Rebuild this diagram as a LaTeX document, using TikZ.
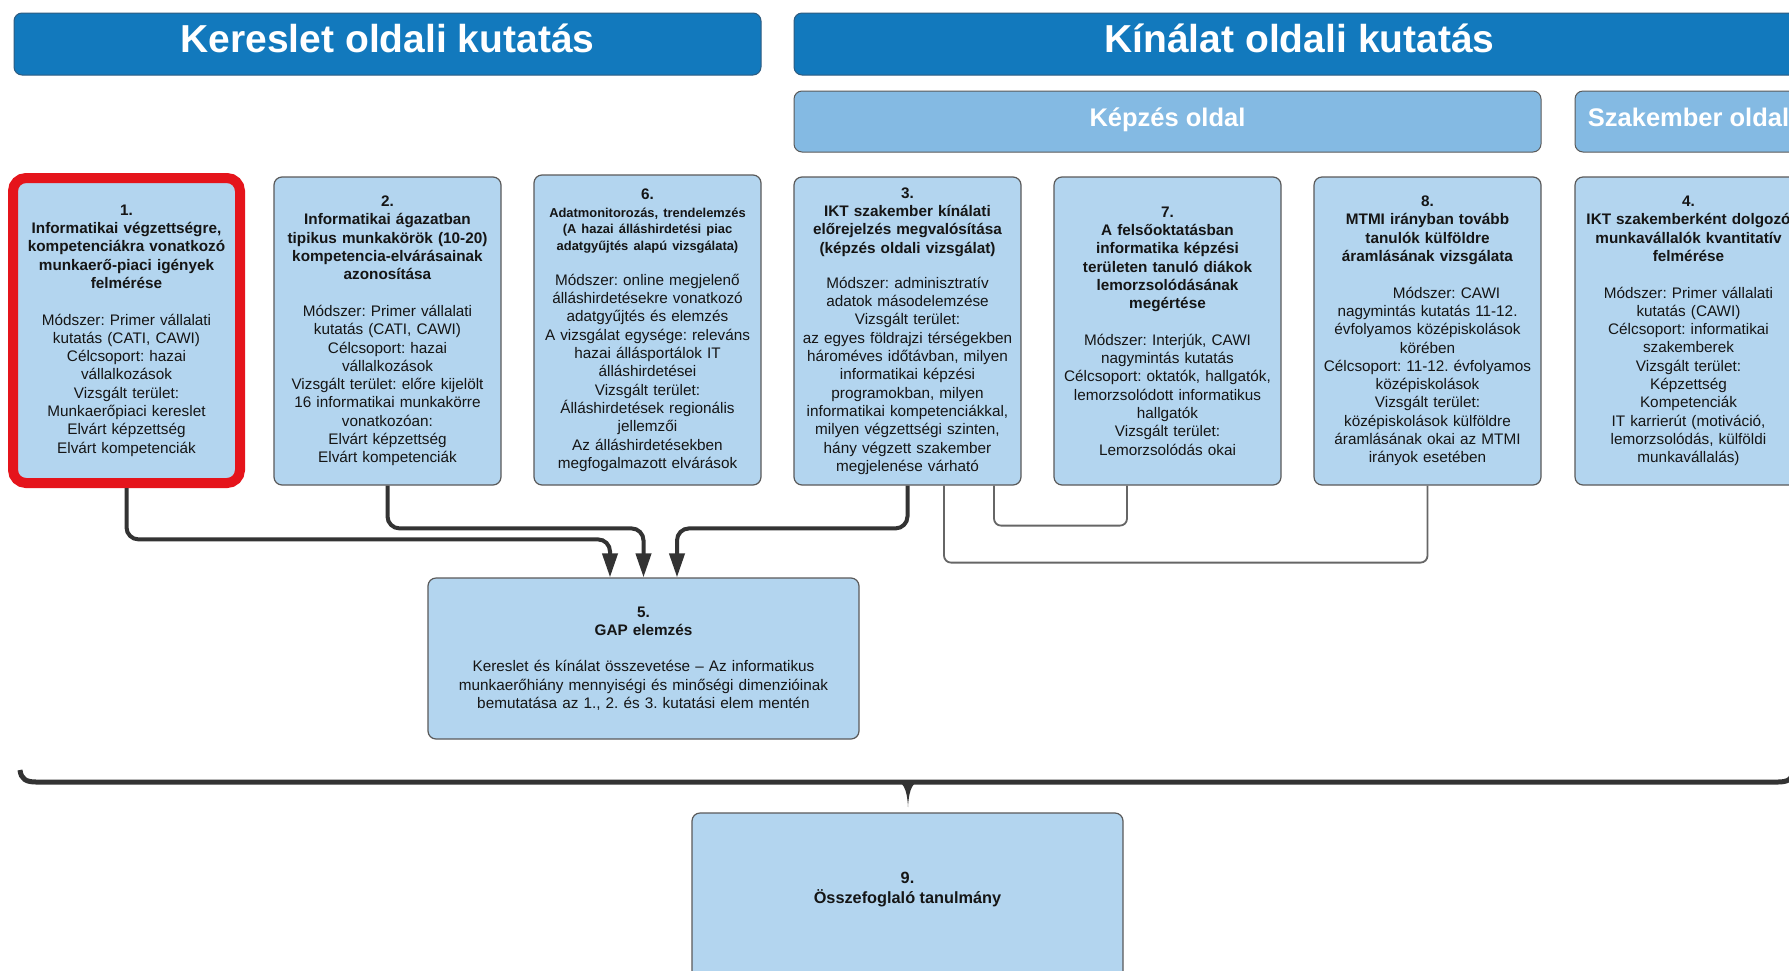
\documentclass[tikz,border=0pt]{standalone}
\usepackage{fontspec}
\setmainfont{Liberation Sans}
\usetikzlibrary{arrows.meta}
\definecolor{hdrc}{HTML}{1279BD}
\definecolor{hdrbord}{HTML}{2E5C80}
\definecolor{subc}{HTML}{84BAE3}
\definecolor{boxc}{HTML}{B3D5EF}
\definecolor{bordc}{HTML}{5A5A5A}
\definecolor{darkc}{HTML}{333333}
\definecolor{linkc}{HTML}{666666}
\definecolor{redc}{HTML}{E5141B}
\definecolor{txtc}{HTML}{151515}
\frenchspacing
\begin{document}
\begin{tikzpicture}[x=1pt,y=-1pt,
  box/.style={draw=bordc, line width=1.2pt, fill=boxc, rounded corners=8pt,
    minimum width=227pt, minimum height=308pt, text width=225pt, inner sep=1pt,
    align=center, font=\fontsize{15.3}{18.3}\selectfont\frenchspacing, text=txtc},
  redbox/.style={box, draw=redc, line width=10pt, rounded corners=13pt},
  hdrbox/.style={draw=hdrbord, line width=1pt, fill=hdrc, rounded corners=8pt,
    minimum height=62pt, inner sep=0pt, text=white, text height=28pt, text depth=12pt,
    font=\fontsize{39}{45}\selectfont\bfseries},
  subbox/.style={draw=bordc, line width=1pt, fill=subc, rounded corners=8pt,
    minimum height=61pt, inner sep=0pt, text=white, text height=19pt, text depth=8.7pt,
    font=\fontsize{25.5}{30}\selectfont\bfseries},
  arr/.style={draw=darkc, line width=4pt, rounded corners=12pt,
    -{Triangle[length=24pt,width=15pt]}},
  link/.style={draw=linkc, line width=1.8pt, rounded corners=7pt},
  brc/.style={draw=darkc, line width=5pt}
]
\useasboundingbox (0,0) rectangle (1789,970);
\clip (0,0) rectangle (1789,970);
\fill[white] (0,0) rectangle (1789,970);

% headers
\node[hdrbox, minimum width=747pt] (H1) at (387.5,44) {Kereslet oldali kutatás};
\node[hdrbox, minimum width=1011pt] (H2) at (1299.5,44) {Kínálat oldali kutatás};
\node[subbox, minimum width=747pt] (S1) at (1167.5,121.5) {Képzés oldal};
\node[subbox, minimum width=227pt] (S2) at (1688.5,121.5) {Szakember oldal};

% boxes
\node[redbox, minimum height=305pt] (B1) at (126.5,330.5) {\textbf{1.}\\
\textbf{Informatikai végzettségre,}\\
\textbf{kompetenciákra vonatkozó}\\
\textbf{munkaerő-piaci igények}\\
\textbf{felmérése}\\[18.3pt]
Módszer: Primer vállalati\\
kutatás (CATI, CAWI)\\
Célcsoport: hazai\\
vállalkozások\\
Vizsgált terület:\\
Munkaerőpiaci kereslet\\
Elvárt képzettség\\
Elvárt kompetenciák};

\node[box] (B2) at (387.5,331) {\textbf{2.}\\
\textbf{Informatikai ágazatban}\\
\textbf{tipikus munkakörök (10-20)}\\
\textbf{kompetencia-elvárásainak}\\
\textbf{azonosítása}\\[18.3pt]
Módszer: Primer vállalati\\
kutatás (CATI, CAWI)\\
Célcsoport: hazai\\
vállalkozások\\
Vizsgált terület: előre kijelölt\\
16 informatikai munkakörre\\
vonatkozóan:\\
Elvárt képzettség\\
Elvárt kompetenciák};

\node[box, minimum height=310pt] (B6) at (647.5,330) {\textbf{6.}\par\vspace{2pt}
{\fontsize{12.9}{16.3}\selectfont\bfseries Adatmonitorozás, trendelemzés\\
(A hazai álláshirdetési piac\\
adatgyűjtés alapú vizsgálata)\par}\vspace{17pt}
Módszer: online megjelenő\\
álláshirdetésekre vonatkozó\\
adatgyűjtés és elemzés\\
A vizsgálat egysége: releváns\\
hazai állásportálok IT\\
álláshirdetései\\
Vizsgált terület:\\
Álláshirdetések regionális\\
jellemzői\\
Az álláshirdetésekben\\
megfogalmazott elvárások};

\node[box] (B3) at (907.5,331) {\textbf{3.}\\
\textbf{IKT szakember kínálati}\\
\textbf{előrejelzés megvalósítása}\\
\textbf{(képzés oldali vizsgálat)}\\[17pt]
Módszer: adminisztratív\\
adatok másodelemzése\\
Vizsgált terület:\\
az egyes földrajzi térségekben\\
hároméves időtávban, milyen\\
informatikai képzési\\
programokban, milyen\\
informatikai kompetenciákkal,\\
milyen végzettségi szinten,\\
hány végzett szakember\\
megjelenése várható};

\node[box] (B7) at (1167.5,331) {\textbf{7.}\\
\textbf{A felsőoktatásban}\\
\textbf{informatika képzési}\\
\textbf{területen tanuló diákok}\\
\textbf{lemorzsolódásának}\\
\textbf{megértése}\\[18.3pt]
Módszer: Interjúk, CAWI\\
nagymintás kutatás\\
Célcsoport: oktatók, hallgatók,\\
lemorzsolódott informatikus\\
hallgatók\\
Vizsgált terület:\\
Lemorzsolódás okai};

\node[box] (B8) at (1427.5,331) {\textbf{8.}\\
\textbf{MTMI irányban tovább}\\
\textbf{tanulók külföldre}\\
\textbf{áramlásának vizsgálata}\\[18.3pt]
\hspace*{38pt}Módszer: CAWI\\
nagymintás kutatás 11-12.\\
évfolyamos középiskolások\\
körében\\
Célcsoport: 11-12. évfolyamos\\
középiskolások\\
Vizsgált terület:\\
középiskolások külföldre\\
áramlásának okai az MTMI\\
irányok esetében};

\node[box] (B4) at (1688.5,331) {\textbf{4.}\\
\textbf{IKT szakemberként dolgozó}\\
\textbf{munkavállalók kvantitatív}\\
\textbf{felmérése}\\[18.3pt]
Módszer: Primer vállalati\\
kutatás (CAWI)\\
Célcsoport: informatikai\\
szakemberek\\
Vizsgált terület:\\
Képzettség\\
Kompetenciák\\
IT karrierút (motiváció,\\
lemorzsolódás, külföldi\\
munkavállalás)};

\node[box, minimum width=431pt, minimum height=161pt, text width=429pt] (B5) at (643.5,658.5) {\textbf{5.}\\
\textbf{GAP elemzés}\\[18.3pt]
Kereslet és kínálat összevetése – Az informatikus\\
munkaerőhiány mennyiségi és minőségi dimenzióinak\\
bemutatása az 1., 2. és 3. kutatási elem mentén};

\node[box, minimum width=431pt, minimum height=190pt] (B9) at (907.5,908) {};
\node[align=center, text=txtc, inner sep=0pt, font=\fontsize{16.3}{20}\selectfont\bfseries] (B9t) at (907.5,890) {9.\\Összefoglaló tanulmány};

% arrows to GAP
\draw[arr] (B1.south) |- ([xshift=-33.5pt,yshift=38pt]B5.north) -- ([xshift=-33.5pt]B5.north);
\draw[arr] (B2.south) |- ([yshift=49pt]B5.north) -- (B5.north);
\draw[arr] (B3.south) |- ([xshift=33.5pt,yshift=49pt]B5.north) -- ([xshift=33.5pt]B5.north);

% thin links
\draw[link] ([xshift=36.5pt]B3.south) |- ([yshift=-77pt]B8.south) -- (B8.south);
\draw[link] ([xshift=86.5pt]B3.south) |- ([xshift=-40.5pt,yshift=-40pt]B7.south) -- ([xshift=-40.5pt]B7.south);

% brace
\coordinate (bt) at (908,807);
\draw[brc] (20,770) .. controls (21,779) and (26,782) .. (36,782) -- (1778,782) .. controls (1788,782) and (1793,779) .. (1794,770);
\fill[darkc] (893,780) .. controls (903,781) and (907,788) .. (bt) .. controls (909,788) and (913,781) .. (923,780) -- cycle;
\end{tikzpicture}
\end{document}
